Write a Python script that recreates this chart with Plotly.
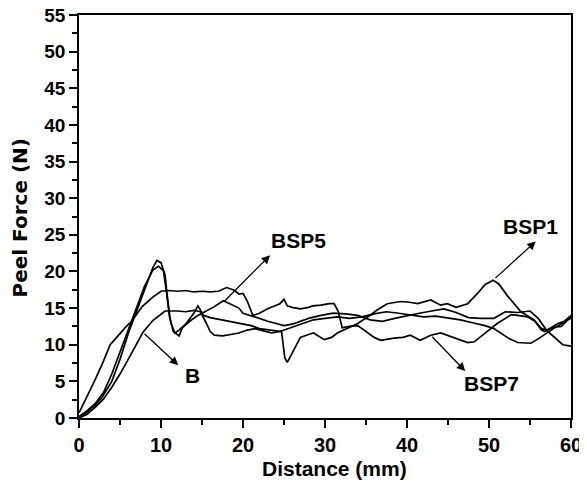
import plotly.graph_objects as go

# ---- data ----
bsp7_x = [0,1,2,3,3.8,4.6,5.6,6.5,7.7,9,10,11,12,13,14,15,16,17,18,19,19.5,20,20.5,21.2,22,23,24,24.5,25,25.4,26,27,28,28.5,29.5,30.5,31.1,31.6,32.1,33,34,35,36,36.8,37.6,38.4,39.5,40.4,41.6,42.9,44.1,45.2,46.3,47.4,48.2,49,50,51,52,52.7,53.5,54.7,55.6,56.4,56.8,57.6,58.4,59.2,60]
bsp7_y = [0.7,2.9,5.3,7.8,10.0,11.0,12.3,13.3,15.2,16.5,17.3,17.4,17.3,17.4,17.2,17.3,17.2,17.3,17.8,17.4,16.9,17.0,16.0,14.0,14.3,14.9,15.3,15.6,16.2,15.3,15.1,14.9,15.1,15.3,15.4,15.6,15.6,14.6,12.3,12.5,12.6,11.8,11.0,10.6,10.8,10.9,11.0,11.3,10.6,11.3,11.6,11.2,10.8,10.3,10.4,11.1,12.0,12.9,13.6,14.1,14.0,13.8,13.2,12.0,11.8,12.4,12.9,13.2,13.6]

bsp1_x = [0,1,2,3,4,5,6,7,8,9,9.7,10.3,10.8,11.2,11.7,12.2,13,14,14.5,15.2,16,17,18,19,20,21,22,23,24,24.7,25.1,25.4,26.2,27,28,28.6,29.9,30.8,31.5,33,34,35.6,36.3,37.6,39.2,40.3,41.3,42.9,44.1,44.9,46,47.4,48.6,49.5,50.5,51.2,52.3,53.9,55.5,56.4,57.1,58,58.8,60]
bsp1_y = [0.2,1.0,2.0,3.5,6.0,9.0,12.0,15.0,18.0,20.2,20.7,20.1,16.5,13.0,11.6,12.0,12.8,14.3,15.3,14.0,13.7,13.5,13.3,13.0,12.8,12.6,12.2,12.0,11.9,11.8,8.2,7.6,9.2,11.0,11.4,11.6,10.7,11.0,11.6,12.4,12.9,14.1,14.7,15.6,15.9,15.8,15.6,16.1,15.4,15.6,15.1,15.6,17.0,18.2,18.8,18.3,16.6,14.5,13.4,12.2,12.0,12.4,12.5,13.8]

bsp5_x = [0,1,2,2.8,4,5,6,7,8,9,9.5,10,10.5,11,11.5,12.2,12.6,13.5,14.5,15.5,16.5,17.6,18.5,19.5,20,21,22,23,24,25,26,27,28,29.5,31,32.5,34,35.5,37,38.5,40,41.5,43,44.5,46,47.5,49,50.6,52,53.5,55,56,57,58,59,60]
bsp5_y = [0,0.8,1.8,2.8,5,8,11.5,14.5,17.5,20.5,21.5,21.2,19.5,14,11.8,11.2,12.3,13.2,14.0,14.6,15.2,16.0,15.5,15.0,14.3,14.0,13.6,13.2,12.9,12.6,12.8,13.2,13.6,14.0,14.3,14.2,14.0,13.4,13.2,13.6,14.0,14.3,14.6,14.9,14.4,13.7,13.6,13.6,14.5,14.4,14.6,13.6,12.0,11.0,10.0,9.8]

b_x = [0,1,2,3,4,5,6,7,7.8,9,10.5,12,13,14,14.8,15.5,16,16.5,17.5,18.5,19.5,20.5,21.5,22.5,23.5,24.5,25.5,26.5,27.5,28.6,30,31.5,33,34.5,36,37.5,39,40.5,42,43.5,45,46.5,48,49.5,50.6,51.5,52.5,53.5,54.5,55.1,56,57,58,59,60]
b_y = [0,0.5,1.5,2.6,4.2,6.0,8.0,10.0,11.7,13.3,14.6,14.6,14.5,14.7,14.5,13.0,11.8,11.3,11.2,11.4,11.6,12.0,12.2,11.9,11.6,11.8,12.2,12.6,13.0,13.4,13.6,13.8,13.6,13.8,14.2,14.5,14.3,14.0,13.8,13.9,13.7,13.4,13.0,12.6,12.2,11.5,10.8,10.3,10.2,10.2,10.8,11.6,12.3,13.0,14.0]

labels = ["BSP5", "BSP1", "B", "BSP7"]
label_pos = [(26.8, 24.2), (55.0, 26.2), (13.9, 5.8), (50.3, 4.7)]
arrow_tail = [(17.6, 15.8), (50.6, 18.9), (7.8, 11.7), (42.9, 11.3)]
arrow_head = [(23.3, 22.2), (55.7, 24.1), (12.1, 7.2), (47.1, 6.4)]

x_title = "Distance (mm)"
y_title = "Peel Force (N)"

FONT = "Liberation Sans, Arial, sans-serif"
YFONT = "DejaVu Sans, Liberation Sans, sans-serif"

fig = go.Figure()
for xs, ys, nm in [(bsp7_x, bsp7_y, "BSP7"), (bsp1_x, bsp1_y, "BSP1"),
                   (bsp5_x, bsp5_y, "BSP5"), (b_x, b_y, "B")]:
    fig.add_trace(go.Scatter(x=xs, y=ys, mode="lines", name=nm,
                             line=dict(color="black", width=1.7), showlegend=False))

for t, (tx, ty), (ax_, ay_), (hx, hy) in zip(labels, label_pos, arrow_tail, arrow_head):
    fig.add_annotation(x=hx, y=hy, ax=ax_, ay=ay_, xref="x", yref="y",
                       axref="x", ayref="y", text="", showarrow=True,
                       arrowhead=2, arrowsize=1.3, arrowwidth=1.3, arrowcolor="black",
                       standoff=0, startstandoff=0)
    fig.add_annotation(x=tx, y=ty, xref="x", yref="y", text="<b>%s</b>" % t,
                       showarrow=False, font=dict(family=FONT, size=21, color="black"))

# axis titles as annotations (pixel placement)
fig.add_annotation(x=0.52, y=0, xref="paper", yref="paper", yshift=-50, yanchor="middle",
                   text="<b>%s</b>" % x_title, showarrow=False,
                   font=dict(family=FONT, size=21, color="black"))
fig.add_annotation(x=0, y=0.495, xref="paper", yref="paper", xshift=-59, xanchor="center",
                   text="<b>%s</b>" % y_title, showarrow=False, textangle=-90,
                   font=dict(family=YFONT, size=20, color="black"))

axis_common = dict(showline=True, linecolor="black", linewidth=1.5, mirror=True,
                   ticks="outside", tickcolor="black", tickwidth=1.5, ticklen=8,
                   showgrid=False, zeroline=False, automargin=False,
                   ticklabeloverflow="allow")

fig.update_xaxes(range=[0, 60], tick0=0, dtick=10,
                 minor=dict(ticks="outside", dtick=5, ticklen=5, tickcolor="black", tickwidth=1.5),
                 tickfont=dict(family=FONT, size=20, color="black"),
                 tickprefix="<b>", ticksuffix="</b>", **axis_common)
fig.update_yaxes(range=[0, 55], tick0=0, dtick=5,
                 minor=dict(ticks="outside", dtick=2.5, ticklen=5, tickcolor="black", tickwidth=1.5),
                 tickfont=dict(family=FONT, size=19, color="black"),
                 tickprefix="<b>", ticksuffix="</b>", **axis_common)

# page body has an 8px margin, so the figure is drawn 8px in from the top-left
fig.update_layout(width=579, height=477, margin=dict(l=71, r=16, t=7, b=67, autoexpand=False),
                  plot_bgcolor="white", paper_bgcolor="white",
                  font=dict(family=FONT, color="black"))

fig.write_html("out.html")
